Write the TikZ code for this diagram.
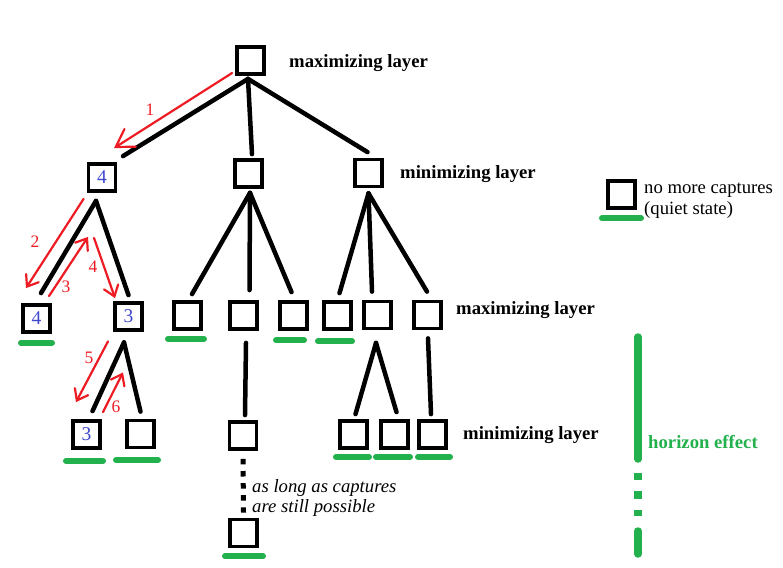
\documentclass[tikz,border=0pt]{standalone}
\usepackage{fontspec}
\setmainfont{Liberation Serif}
\usetikzlibrary{arrows.meta,calc}
\definecolor{gr}{RGB}{34,177,76}
\definecolor{rd}{RGB}{237,28,36}
\definecolor{bl}{RGB}{63,72,204}
\newcommand\gbar[4]{\draw[gbar] ($(#1.south)+(#2,#4)$) -- ($(#1.south)+(#3,#4)$);}
\begin{document}
\begin{tikzpicture}[x=1pt,y=-1pt,
  box/.style={draw, line width=3.8pt, minimum size=27pt, inner sep=0pt, font=\fontsize{19.5}{19.5}\selectfont, text=bl},
  edge/.style={line width=4.5pt, line cap=round},
  gbar/.style={gr, line width=6pt, line cap=round},
  rarr/.style={rd, line width=2.2pt, line cap=round, -{Straight Barb[length=10pt,width=15pt,line cap=round]}},
  rarrbig/.style={rd, line width=2.2pt, line cap=round, -{Straight Barb[length=17pt,width=21pt,line cap=round]}},
  rlab/.style={rd, font=\fontsize{17.5}{17.5}\selectfont, inner sep=0pt},
  lay/.style={anchor=base west, inner sep=0pt, font=\fontsize{18.7}{21}\selectfont\bfseries},
  txt/.style={anchor=base west, inner sep=0pt, font=\fontsize{18.7}{21}\selectfont},
  hz/.style={gr, line width=7.5pt}]
\useasboundingbox (0,0) rectangle (783,567);

% nodes
\node[box] (r) at (250.5,60.5) {};
\node[box] (a) at (102,177.5) {4};
\node[box] (b) at (248.5,173.5) {};
\node[box] (c) at (368.5,173) {};
\node[box] (ll) at (36.5,318.5) {4};
\node[box] (lr) at (128.5,316.5) {3};
\node[box] (m1) at (187.5,315.5) {};
\node[box] (m2) at (243.5,315.5) {};
\node[box] (m3) at (293.5,315.5) {};
\node[box] (m4) at (337.5,315.5) {};
\node[box] (m5) at (377.5,315) {};
\node[box] (m6) at (427.5,315) {};
\node[box] (b1) at (86.5,434.5) {3};
\node[box] (b2) at (140.5,434) {};
\node[box] (b3) at (243,435.5) {};
\node[box] (b4) at (353.5,434.5) {};
\node[box] (b5) at (394.5,434.5) {};
\node[box] (b6) at (432.5,434.5) {};
\node[box] (b7) at (243.5,533) {};
\node[box] (lg) at (621.5,194.5) {};

% tree edges
\draw[edge] ($(r.south)+(-2.5,3)$) -- ($(a.north)+(21,-6)$);
\draw[edge] ($(r.south)+(-2.5,3)$) -- ($(b.north)+(3.5,-4)$);
\draw[edge] ($(r.south)+(-2.5,3)$) -- ($(c.north)+(-1,-5.5)$);
\draw[edge] ($(a.south)+(-6,8)$) -- ($(ll.north)+(4.5,-10)$);
\draw[edge] ($(a.south)+(-6,8)$) -- ($(lr.north)+(0,-6)$);
\draw[edge] ($(b.south)+(1.5,4)$) -- ($(m1.north)+(4.5,-6)$);
\draw[edge] ($(b.south)+(1.5,4)$) -- ($(m2.north)+(6,-10)$);
\draw[edge] ($(b.south)+(1.5,4)$) -- ($(m3.north)+(-2,-8)$);
\draw[edge] ($(c.south)+(0,5)$) -- ($(m4.north)+(2,-7)$);
\draw[edge] ($(c.south)+(0,5)$) -- ($(m5.north)+(-5.5,-8)$);
\draw[edge] ($(c.south)+(0,5)$) -- ($(m6.north)+(-0.5,-8)$);
\draw[edge] ($(lr.south)+(-4.5,10.5)$) -- ($(b1.north)+(6,-8)$);
\draw[edge] ($(lr.south)+(-4.5,10.5)$) -- ($(b2.north)+(0,-7)$);
\draw[edge] ($(m2.south)+(2.5,12)$) -- ($(b3.north)+(2,-5)$);
\draw[edge] ($(m5.south)+(-1.5,12.5)$) -- ($(b4.north)+(2,-5)$);
\draw[edge] ($(m5.south)+(-1.5,12.5)$) -- ($(b5.north)+(2,-7)$);
\draw[edge] ($(m6.south)+(0.5,8)$) -- ($(b6.north)+(-1.5,-5)$);
\draw[line width=5pt, dash pattern=on 5.5pt off 6.6pt] ($(b3.south)+(0,8)$) -- ($(b7.north)+(0,-5)$);

% red search arrows
\draw[rarrbig] ($(r.west)+(-3,12.5)$) -- ($(a.north)+(12,-14)$);
\draw[rarr] ($(a.south west)+(-3,6)$) -- ($(ll.north)+(-10.5,-15)$);
\draw[rarr] ($(ll.north)+(12.5,-7)$) -- ($(a.south)+(-14,44)$);
\draw[rarr] ($(a.south)+(-8,45)$) -- ($(lr.north)+(-13.5,-3)$);
\draw[rarr] ($(lr.south)+(-20.5,9.5)$) -- ($(b1.north)+(-10.5,-17)$);
\draw[rarr] ($(b1.north)+(16.5,-7)$) -- ($(lr.south)+(-5.5,40.5)$);
\node[rlab] (n1) at (150,110) {1};
\node[rlab] (n2) at (35,242) {2};
\node[rlab] (n3) at (66,287) {3};
\node[rlab] (n4) at (93,267) {4};
\node[rlab] (n5) at (89,358) {5};
\node[rlab] (n6) at (116,407) {6};

% quiet-state bars
\gbar{ll}{-15.5}{15.5}{9}
\gbar{m1}{-19.5}{16.5}{8}
\gbar{m3}{-17.5}{10.5}{9.5}
\gbar{m4}{-19.5}{14.5}{10.5}
\gbar{b1}{-20.5}{16.5}{11}
\gbar{b2}{-24.5}{17.5}{10.5}
\gbar{b4}{-17.5}{15.5}{7}
\gbar{b5}{-18.5}{15.5}{7}
\gbar{b6}{-14.5}{17.5}{7}
\gbar{b7}{-18.5}{19.5}{8}
\gbar{lg}{-19.5}{19.5}{8.5}

% layer labels
\node[lay] (t1) at (289,68) {maximizing layer};
\node[lay] (t2) at (400,178) {minimizing layer};
\node[lay] (t3) at (456,314) {maximizing layer};
\node[lay] (t4) at (463,439) {minimizing layer};
\node[txt] (q1) at (644,193) {no more captures};
\node[txt] (q2) at (644,214) {(quiet state)};
\node[txt, font=\fontsize{18.7}{21}\selectfont\itshape] (p1) at (252,492) {as long as captures};
\node[txt, font=\fontsize{18.7}{21}\selectfont\itshape] (p2) at (252,512) {are still possible};

% horizon
\draw[hz, line cap=round] (638,337) -- (638,459);
\draw[hz] (638,473) -- (638,480) (638,491) -- (638,499) (638,510) -- (638,516);
\draw[hz, line cap=round] (638,531) -- (638,554);
\node[lay, text=gr] (hl) at (648,448) {horizon effect};
\end{tikzpicture}
\end{document}
